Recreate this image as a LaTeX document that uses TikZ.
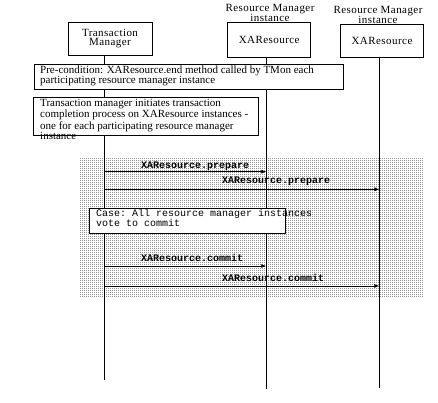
\documentclass[tikz,border=0pt]{standalone}
\usepackage{fontspec}
\setmainfont{Liberation Serif}
\setmonofont{Liberation Mono}
\newfontfamily\widefont[LetterSpace=4]{Liberation Serif}
\usetikzlibrary{patterns.meta,arrows.meta}
\tikzdeclarepattern{
  name=smalldots,
  type=uncolored,
  bounding box={(0pt,0pt) and (2pt,2pt)},
  tile size={(2pt,2pt)},
  code={\pgfpathrectangle{\pgfpointorigin}{\pgfpoint{1pt}{1pt}}\pgfusepath{fill}}
}
\tikzset{
  obj/.style={draw, line width=0.8pt, fill=white, inner sep=0pt, font=\widefont\fontsize{11}{9.5}\selectfont, align=center},
  rmlabel/.style={inner sep=0pt, font=\widefont\fontsize{11}{9.5}\selectfont, align=center},
  notebox/.style={draw, line width=0.8pt, fill=white, inner sep=0pt, anchor=north west},
  notetext/.style={inner sep=0pt, anchor=north west, align=left},
  life/.style={line width=0.8pt},
  msg/.style={line width=0.8pt, -{Latex[length=5pt,width=4pt]}},
  msglabel/.style={inner sep=0pt, anchor=west, font=\ttfamily\bfseries\fontsize{10}{10}\selectfont},
  shade/.style={pattern={smalldots}, pattern color=black}
}
\begin{document}
\begin{tikzpicture}[x=1pt,y=-1pt]
\useasboundingbox (0,0) rectangle (438,403);

% shaded fragment
\fill[shade] (80,158) rectangle (423,297);

% participants
\node[obj, minimum width=84pt, minimum height=33pt] (tm) at (110,38.5) {Transaction\\Manager};
\node[obj, minimum width=83pt, minimum height=34.6pt] (rm1) at (269.2,40) {XAResource};
\node[obj, minimum width=83.4pt, minimum height=33pt] (rm2) at (382,40.8) {XAResource};
\node[rmlabel] (rm1l) at (270,13) {Resource Manager\\instance};
\node[rmlabel] (rm2l) at (378,15) {Resource Manager\\instance};

% lifeline ends
\coordinate (tmend) at (104.3,380);
\coordinate (rm1end) at (266.3,389);
\coordinate (rm2end) at (379.3,388);
\draw[life] (tm.south -| tmend) -- (tmend);
\draw[life] (rm1.south -| rm1end) -- (rm1end);
\draw[life] (rm2.south -| rm2end) -- (rm2end);

% notes
\node[notebox, minimum width=308.4pt, minimum height=25pt] (pre) at (34.3,64.3) {};
\node[notetext, font=\fontsize{11}{10}\selectfont] (pret) at (40,66) {Pre-condition: XAResource.end method called by TMon each\\participating resource manager instance};

\node[notebox, minimum width=224.4pt, minimum height=37.7pt] (init) at (33.3,97.3) {};
\node[notetext, font=\fontsize{11}{8.7}\selectfont] (initt) at (40,99.5) {Transaction manager initiates transaction\\completion process on XAResource instances -\\one for each participating resource manager\\instance};

% messages
\coordinate (p1s) at (104.3,171.7);
\coordinate (p1e) at (266.3,171.7);
\coordinate (p2s) at (104.3,189.3);
\coordinate (p2e) at (379.3,189.3);
\coordinate (c1s) at (104.3,266);
\coordinate (c1e) at (266.3,266);
\coordinate (c2s) at (104.3,286);
\coordinate (c2e) at (379.3,286);

\draw[msg] (p1s) -- (p1e);
\draw[msg] (p2s) -- (p2e);
\draw[msg] (c1s) -- (c1e);
\draw[msg] (c2s) -- (c2e);

\node[msglabel] (p1l) at (141,166.2) {XAResource.prepare};
\node[msglabel] (p2l) at (222,181.7) {XAResource.prepare};
\node[msglabel] (c1l) at (141,258.3) {XAResource.commit};
\node[msglabel] (c2l) at (222,278.3) {XAResource.commit};

% case note
\node[notebox, minimum width=196pt, minimum height=24.4pt] (case) at (89,208.3) {};
\node[notetext, font=\ttfamily\fontsize{10}{10}\selectfont] (caset) at (96,209) {Case: All resource manager instances\\vote to commit};
\end{tikzpicture}
\end{document}
